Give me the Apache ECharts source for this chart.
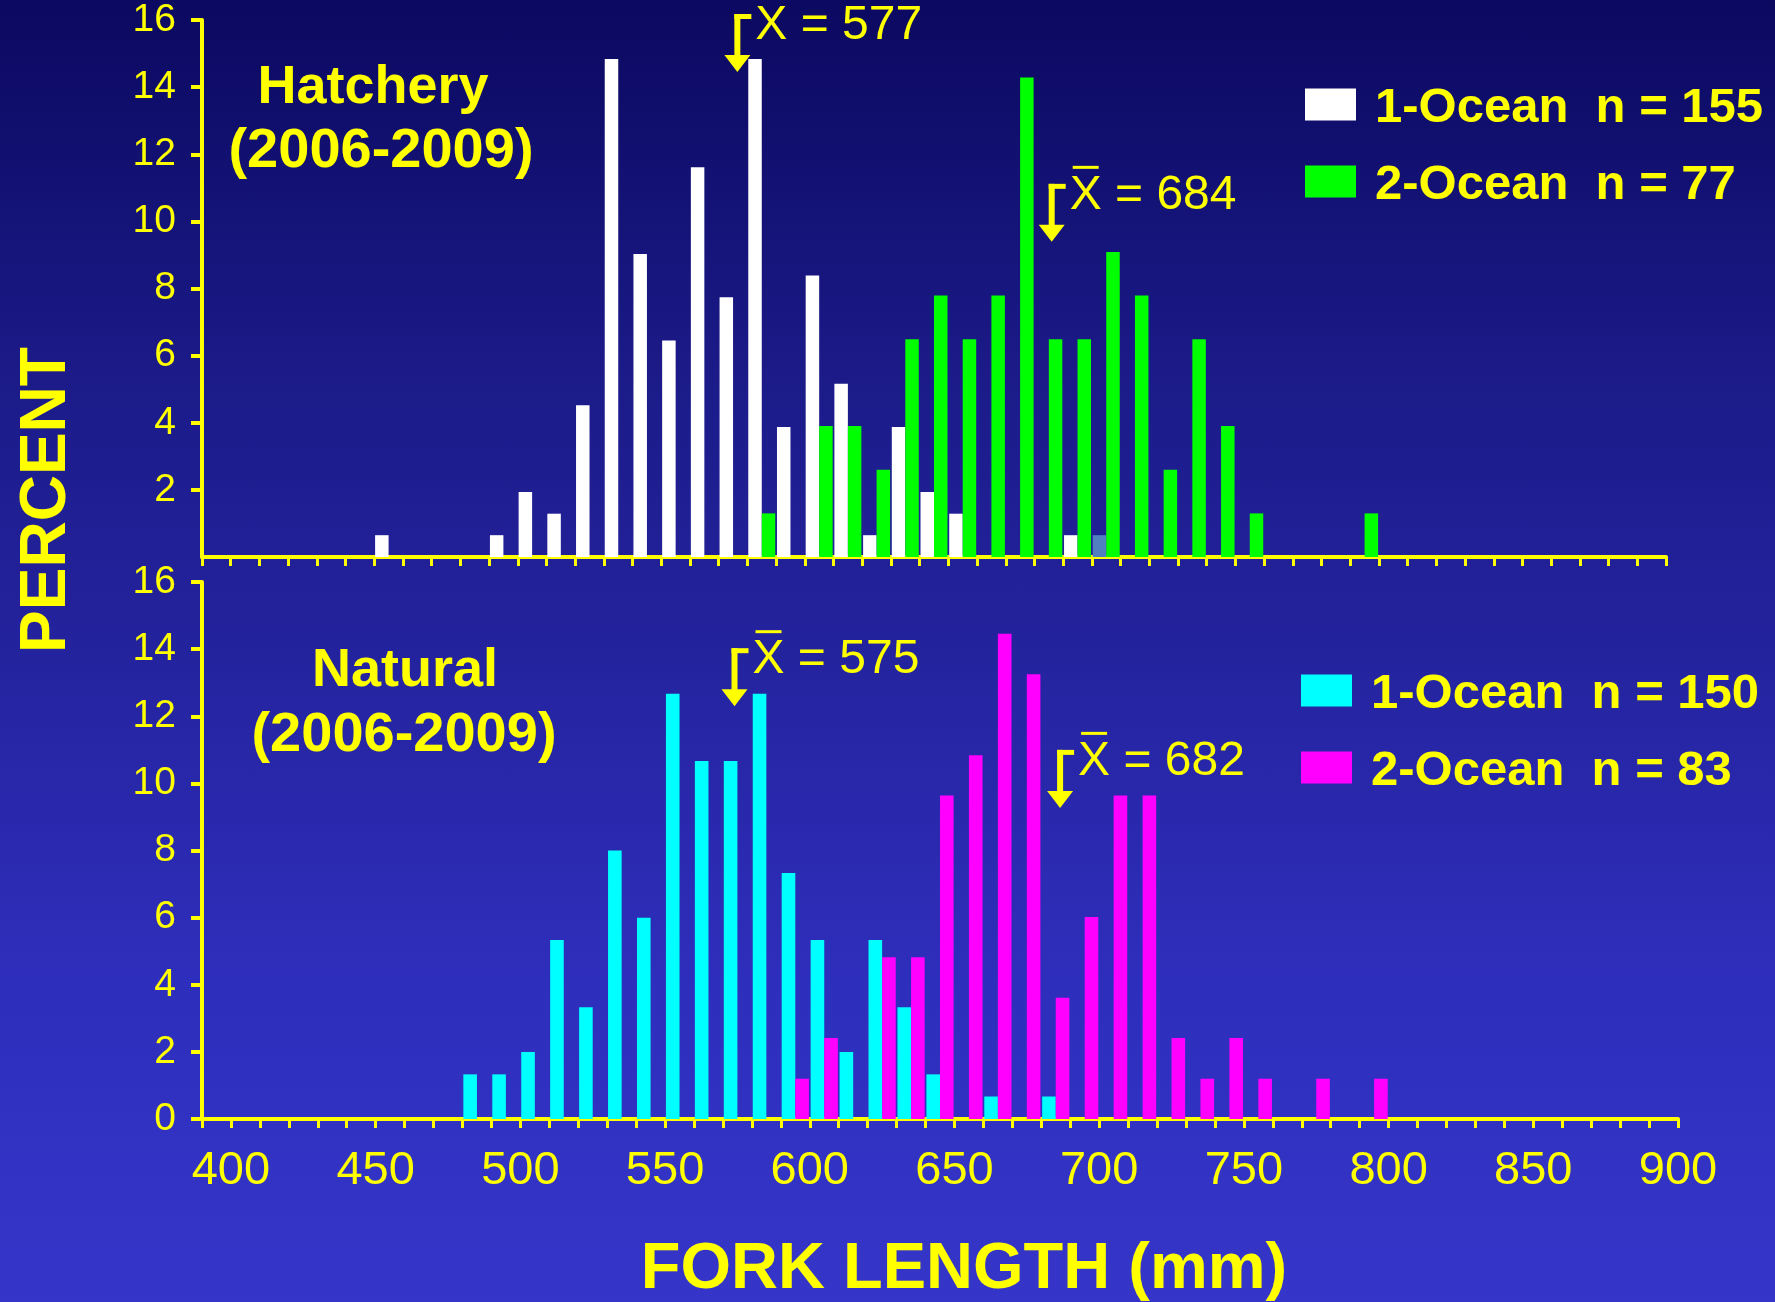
<!DOCTYPE html>
<html>
<head>
<meta charset="utf-8">
<script src="https://cdn.jsdelivr.net/npm/echarts@6/dist/echarts.min.js"></script>
<style>
html,body{margin:0;padding:0;width:1775px;height:1302px;overflow:hidden;}
body{background:linear-gradient(to bottom,#0b0960 0%,#1c1b8a 30%,#24239e 50%,#2e2ebc 75%,#3535c9 100%);}
#chart{width:1775px;height:1302px;}
</style>
</head>
<body>
<div id="chart"></div>
<script>
// ---------- DATA ----------
// fork-length classes (lower edge of each 10-mm bin)
const binStarts = [390,400,410,420,430,440,450,460,470,480,490,500,510,520,530,540,550,560,570,580,
                   590,600,610,620,630,640,650,660,670,680,690,700,710,720,730,740,750,760,770,780,
                   790,800,810,820,830,840,850,860,870,880,890];
const tickLabels = [400,450,500,550,600,650,700,750,800,850,900];

// Hatchery 1-Ocean (n = 155)
const hatch1Bins = [450,490,500,510,520,530,540,550,560,570,580,590,600,610,620,630,640,650,690,700];
const hatch1Pct  = [0.65,0.65,1.94,1.29,4.52,14.84,9.03,6.45,11.61,7.74,14.84,3.87,8.39,5.16,0.65,3.87,1.94,1.29,0.65,0.65];
// Hatchery 2-Ocean (n = 77)
const hatch2Bins = [580,600,610,620,630,640,650,660,670,680,690,700,710,720,730,740,750,790];
const hatch2Pct  = [1.30,3.90,3.90,2.60,6.49,7.79,6.49,7.79,14.29,6.49,6.49,9.09,7.79,2.60,6.49,3.90,1.30,1.30];
// Natural 1-Ocean (n = 150)
const nat1Bins = [480,490,500,510,520,530,540,550,560,570,580,590,600,610,620,630,640,660,680];
const nat1Pct  = [1.33,1.33,2.00,5.33,3.33,8.00,6.00,12.67,10.67,10.67,12.67,7.33,5.33,2.00,5.33,3.33,1.33,0.67,0.67];
// Natural 2-Ocean (n = 83)
const nat2Bins = [590,600,620,630,640,650,660,670,680,690,700,710,720,730,740,750,770,790];
const nat2Pct  = [1.20,2.41,4.82,4.82,9.64,10.84,14.46,13.25,3.61,6.02,9.64,9.64,2.41,1.20,2.41,1.20,1.20,1.20];

// mean annotations: label, fork length the arrow points at, arrow tip height (percent)
const hatchMeanLabels = ['577','684'];
const hatchArrowX     = [576.5, 686];
const hatchArrowTipY  = [14.45, 9.39];
const natMeanLabels   = ['575','682'];
const natArrowX       = [574, 686.5];
const natArrowTipY    = [12.3, 9.27];

const seriesNames = {
  h1: '1-Ocean  n = 155', h2: '2-Ocean  n = 77',
  n1: '1-Ocean  n = 150', n2: '2-Ocean  n = 83'
};

// ---------- STYLE ----------
const YELLOW = '#FFFF00';
const FONT = '"Liberation Sans", Arial, Helvetica, sans-serif';
const SHADED_BIN = 700;          // hatchery 1-Ocean bar drawn in a steel-blue tint in the original
const SHADED_COLOR = '#5080c0';
// legend swatch: filled 51x32 box sitting in the upper part of a 51x40 symbol box
const LEGEND_ICON = 'path://M0,0L51,0L51,32L0,32ZM0,40L0.01,40';

function fullSeries(bins, vals, shadeBin) {
  return binStarts.map(b => {
    const i = bins.indexOf(b);
    if (i < 0) return '-';
    if (shadeBin !== undefined && b === shadeBin) {
      return { value: vals[i], itemStyle: { color: SHADED_COLOR } };
    }
    return vals[i];
  });
}

function arrowRenderer(labels) {
  return function (params, api) {
    const tip = api.coord([api.value(0), api.value(1)]);
    const x = tip[0], y = tip[1];
    const len = 58;
    const top = y - len;
    const textLeft = x + 18;
    const baseline = y - 33;
    return {
      type: 'group',
      children: [
        { type: 'rect', shape: { x: x - 3, y: top, width: 6, height: len - 14 }, style: { fill: YELLOW } },
        { type: 'rect', shape: { x: x - 3, y: top, width: 17, height: 5 }, style: { fill: YELLOW } },
        { type: 'polygon', shape: { points: [[x - 13, y - 17], [x + 13, y - 17], [x, y]] }, style: { fill: YELLOW } },
        { type: 'text', style: { text: 'X = ' + labels[params.dataIndex], x: textLeft, y: baseline - 13,
            fill: YELLOW, font: '48px ' + FONT, align: 'left', verticalAlign: 'middle' } },
        { type: 'rect', shape: { x: textLeft + 3, y: baseline - 43, width: 26, height: 3 }, style: { fill: YELLOW } }
      ]
    };
  };
}

function valueXAxis(gridIndex, showLabels) {
  return {
    gridIndex: gridIndex, type: 'value', min: 390, max: 900, interval: 10, position: 'bottom',
    axisLine: { show: true, onZero: false, lineStyle: { color: YELLOW, width: 4 } },
    axisTick: { show: true, inside: false, length: 9, lineStyle: { color: YELLOW, width: 3 } },
    axisLabel: {
      show: showLabels, color: YELLOW, fontSize: 47, fontFamily: FONT, margin: 29,
      formatter: v => tickLabels.indexOf(v) >= 0 ? String(v) : ''
    },
    splitLine: { show: false }
  };
}
function catXAxis(gridIndex) {
  return { gridIndex: gridIndex, type: 'category', data: binStarts.map(String), show: false,
           boundaryGap: true, position: 'top' };
}
function yAxis(gridIndex, showMin) {
  return {
    gridIndex: gridIndex, type: 'value', min: 0, max: 16, interval: 2,
    axisLine: { show: true, onZero: false, lineStyle: { color: YELLOW, width: 4 } },
    axisTick: { show: true, inside: false, length: 11, lineStyle: { color: YELLOW, width: 4 } },
    axisLabel: { color: YELLOW, fontSize: 39, fontFamily: FONT, margin: 26, showMinLabel: showMin },
    splitLine: { show: false }
  };
}
function barSeries(name, data, color, xi, yi) {
  return { name: name, type: 'bar', xAxisIndex: xi, yAxisIndex: yi, data: data,
           barWidth: '47%', barGap: '0%', itemStyle: { color: color, borderWidth: 0 }, silent: true };
}
function legend(names, left, top) {
  return {
    data: names, orient: 'vertical', left: left, top: top, padding: 0,
    itemWidth: 51, itemHeight: 40, itemGap: 28, icon: LEGEND_ICON, selectedMode: false,
    itemStyle: { borderWidth: 0 },
    textStyle: { color: YELLOW, fontSize: 49, fontWeight: 'bold', fontFamily: FONT, padding: [0, 0, 0, 14] }
  };
}

const chart = echarts.init(document.getElementById('chart'), null, { renderer: 'canvas' });
chart.setOption({
  backgroundColor: 'transparent',
  animation: false,
  grid: [
    { left: 202, top: 20, width: 1464, height: 537, containLabel: false, outerBoundsMode: 'none' },
    { left: 202, top: 582, width: 1476, height: 537, containLabel: false, outerBoundsMode: 'none' }
  ],
  xAxis: [catXAxis(0), valueXAxis(0, false), catXAxis(1), valueXAxis(1, true)],
  yAxis: [yAxis(0, false), yAxis(1, true)],
  legend: [
    legend([seriesNames.h1, seriesNames.h2], 1305, 84),
    legend([seriesNames.n1, seriesNames.n2], 1301, 670)
  ],
  series: [
    barSeries(seriesNames.h1, fullSeries(hatch1Bins, hatch1Pct, SHADED_BIN), '#FFFFFF', 0, 0),
    barSeries(seriesNames.h2, fullSeries(hatch2Bins, hatch2Pct), '#00FF00', 0, 0),
    barSeries(seriesNames.n1, fullSeries(nat1Bins, nat1Pct), '#00FFFF', 2, 1),
    barSeries(seriesNames.n2, fullSeries(nat2Bins, nat2Pct), '#FF00FF', 2, 1),
    { type: 'custom', xAxisIndex: 1, yAxisIndex: 0, clip: false, silent: true, z: 10,
      data: hatchArrowX.map((x, i) => [x, hatchArrowTipY[i]]), renderItem: arrowRenderer(hatchMeanLabels) },
    { type: 'custom', xAxisIndex: 3, yAxisIndex: 1, clip: false, silent: true, z: 10,
      data: natArrowX.map((x, i) => [x, natArrowTipY[i]]), renderItem: arrowRenderer(natMeanLabels) }
  ],
  graphic: [
    { type: 'text', x: 373, y: 88, style: { text: 'Hatchery', fill: YELLOW, font: 'bold 54px ' + FONT, align: 'center', verticalAlign: 'middle' } },
    { type: 'text', x: 381, y: 152, style: { text: '(2006-2009)', fill: YELLOW, font: 'bold 56px ' + FONT, align: 'center', verticalAlign: 'middle' } },
    { type: 'text', x: 405, y: 671, style: { text: 'Natural', fill: YELLOW, font: 'bold 54px ' + FONT, align: 'center', verticalAlign: 'middle' } },
    { type: 'text', x: 404, y: 736, style: { text: '(2006-2009)', fill: YELLOW, font: 'bold 56px ' + FONT, align: 'center', verticalAlign: 'middle' } },
    { type: 'text', x: 47, y: 500, rotation: Math.PI / 2, style: { text: 'PERCENT', fill: YELLOW, font: 'bold 64px ' + FONT, align: 'center', verticalAlign: 'middle' } },
    { type: 'text', x: 964, y: 1270, style: { text: 'FORK LENGTH (mm)', fill: YELLOW, font: 'bold 65px ' + FONT, align: 'center', verticalAlign: 'middle' } }
  ]
});
</script>
</body>
</html>
